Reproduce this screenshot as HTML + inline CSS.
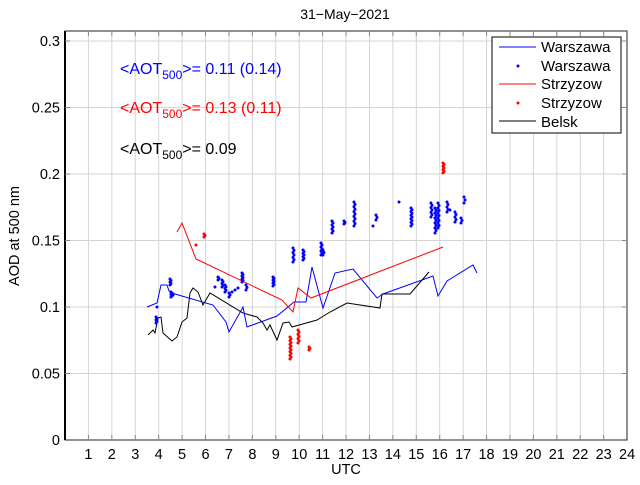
<!DOCTYPE html>
<html><head><style>
body{margin:0;background:#fff;}
svg text{font-family:"Liberation Sans",sans-serif;}
</style></head><body>
<svg id="s" width="640" height="480" xmlns="http://www.w3.org/2000/svg">
<rect width="640" height="480" fill="#fff"/>
<g id="grid" stroke="#d4d4d4" stroke-width="1"></g>
<rect x="65" y="31" width="562" height="409" fill="none" stroke="#222" stroke-width="1"/>
<line x1="65" y1="31" x2="65" y2="440" stroke="#000" stroke-width="2"/>
<g id="ticks" stroke="#888" stroke-width="1"></g>
<g id="labels" font-size="14.5" fill="#000"></g>
<text x="345" y="19" font-size="14" text-anchor="middle">31−May−2021</text>
<text x="346" y="474" font-size="14.5" text-anchor="middle">UTC</text>
<text transform="translate(19,236) rotate(-90)" font-size="14.5" text-anchor="middle">AOD at 500 nm</text>

<polyline fill="none" stroke="#0000ff" stroke-width="1" points="147,307 157,303 161,285 167,285 169,291 175,294 213,305 226,322 229,332 243,307 247,327 277,316 294,302 306,302 312,267 323,308 335,273 353,269 377,298 383,294 433,276 438,296 447,281 473,265 477,273"/>
<polyline fill="none" stroke="#ff0000" stroke-width="1" points="177,232 182,223 196,259 282,300 293,312 298,288 311,298 443,247"/>
<polyline fill="none" stroke="#000" stroke-width="1" points="148,335 153,330 155,333 158,318 161,317 163,333 172,341 177,337 182,322 187,318 190,293 193,288 198,292 203,305 210,293 243,313 250,315 257,317 263,323 267,330 270,325 277,340 283,323 289,322 292,327 317,320 330,312 347,303 380,308 382,294 410,294 429,272"/>
<g id="bd" fill="#0000ff"></g>
<g id="rd" fill="#ff0000"></g>

<text x="120" y="74" font-size="16" fill="#0000ff">&lt;AOT<tspan font-size="12" dy="5">500</tspan><tspan dy="-5">&gt;= 0.11 (0.14)</tspan></text>
<text x="120" y="113" font-size="16" fill="#ff0000">&lt;AOT<tspan font-size="12" dy="5">500</tspan><tspan dy="-5">&gt;= 0.13 (0.11)</tspan></text>
<text x="120" y="154" font-size="16" fill="#000">&lt;AOT<tspan font-size="12" dy="5">500</tspan><tspan dy="-5">&gt;= 0.09</tspan></text>

<rect x="492" y="37" width="129" height="96" fill="#fff" stroke="#000" stroke-width="1"/>
<line x1="499" y1="47" x2="536" y2="47" stroke="#0000ff"/>
<circle cx="518" cy="66" r="1.5" fill="#0000ff"/>
<line x1="499" y1="84" x2="536" y2="84" stroke="#ff0000"/>
<circle cx="518" cy="103" r="1.5" fill="#ff0000"/>
<line x1="499" y1="121" x2="536" y2="121" stroke="#000"/>
<g font-size="15"><text x="541" y="52">Warszawa</text><text x="541" y="71">Warszawa</text><text x="541" y="89">Strzyzow</text><text x="541" y="108">Strzyzow</text><text x="541" y="127">Belsk</text></g>
</svg>
<script>
var ns="http://www.w3.org/2000/svg";
function el(p,t,a,txt){var e=document.createElementNS(ns,t);for(var k in a)e.setAttribute(k,a[k]);if(txt)e.textContent=txt;document.getElementById(p).appendChild(e);}
for(var i=1;i<24;i++){var x=65+23.42*i;el('grid','line',{x1:x,y1:31,x2:x,y2:440});el('ticks','line',{x1:x,y1:440,x2:x,y2:435});el('ticks','line',{x1:x,y1:31,x2:x,y2:36});}
for(var i=0;i<=24;i++){var x=65+23.42*i;if(i>0)el('labels','text',{x:x,y:459,'text-anchor':'middle'},''+i);}
var yl=['0','0.05','0.1','0.15','0.2','0.25','0.3'];
for(var j=0;j<7;j++){var y=440-66.5*j;if(j>0){el('grid','line',{x1:65,y1:y,x2:627,y2:y});el('ticks','line',{x1:65,y1:y,x2:70,y2:y});el('ticks','line',{x1:627,y1:y,x2:622,y2:y});}el('labels','text',{x:60,y:y+5,'text-anchor':'end'},yl[j]);}
function cl(g,x,y1,y2,n){n=n*2-1;for(var k=0;k<n;k++){var y=y1+(n>1?(y2-y1)*k/(n-1):0);el(g,'circle',{cx:x+(k%2)*1,cy:y,r:1.5});}}
var B=[[156,317,323,3],[157,307,307,1],[170,279,285,3],[171,292,297,3],[173,295,295,1],[215,287,287,1],[218,277,280,2],[222,280,287,3],[225,285,292,3],[229,293,297,2],[232,292,292,1],[235,290,290,1],[238,288,288,1],[242,273,282,4],[246,285,290,2],[273,277,286,4],[293,248,262,4],[303,250,260,4],[321,243,255,4],[323,250,255,2],[332,221,233,4],[344,221,224,2],[354,202,226,6],[373,226,226,1],[376,215,220,2],[399,202,202,1],[411,208,226,6],[431,203,217,4],[435,208,233,6],[438,203,228,6],[447,202,212,3],[450,210,210,1],[455,212,222,3],[461,218,223,2],[464,197,203,2]];
B.forEach(function(b){cl('bd',b[0],b[1],b[2],b[3]);});
var R=[[196,245,245,1],[204,234,237,2],[290,337,359,7],[298,330,343,4],[309,347,350,2],[443,163,173,4]];
R.forEach(function(b){cl('rd',b[0],b[1],b[2],b[3]);});
</script>
</body></html>
